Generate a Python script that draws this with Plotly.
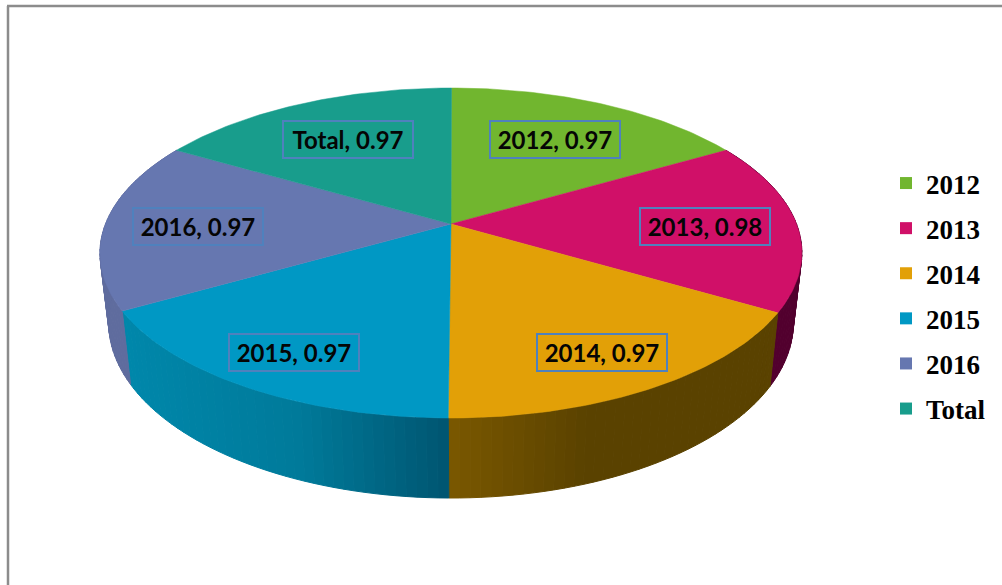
import math
import plotly.graph_objects as go

categories = ["2012", "2013", "2014", "2015", "2016", "Total"]
values = [0.97, 0.98, 0.97, 0.97, 0.97, 0.97]
tick_text = ["2012, 0.97", "2013, 0.98", "2014, 0.97", "2015, 0.97", "2016, 0.97", "Total, 0.97"]

top_colors = ["#71B62F", "#D01068", "#E2A007", "#0098C4", "#6677B0", "#189D8C"]
# wall gradient stops as (pixel x, colour) per slice
wall_stops = [
    [(0, "#3c6018"), (1002, "#3c6018")],
    [(0, "#52002e"), (1002, "#52002e")],
    [(449, "#7a5800"), (585, "#5a4200"), (1002, "#5a4200")],
    [(100, "#0089ad"), (300, "#007a9a"), (449, "#005570")],
    [(0, "#5f6c9e"), (1002, "#5f6c9e")],
    [(0, "#0f5f55"), (1002, "#0f5f55")],
]
label_xy = [(554.5, 139), (704.5, 226.5), (602, 352.5), (294, 352), (198, 226.5), (348, 139)]
box_w, box_h = 132, 39

# projected disc parameters in pixels
TOP = dict(cx=451, cy=224, c=345.5, b=159.9, k=-0.1758, s=-0.5)
BOT = dict(cx=451, cy=292, c=337, b=169.8, k=-0.1758, s=0)


def project(deg, p):
    a = math.radians(deg)
    u, v = math.sin(a), -math.cos(a)
    d = 1 + p["k"] * v
    return p["cx"] + p["s"] * v + p["c"] * u / d, p["cy"] + p["b"] * v / d


def lerp_colour(stops, x):
    def rgb(h):
        return [int(h[i:i + 2], 16) for i in (1, 3, 5)]
    if x <= stops[0][0]:
        return stops[0][1]
    for (x0, c0), (x1, c1) in zip(stops, stops[1:]):
        if x <= x1:
            t = (x - x0) / (x1 - x0)
            m = [round(a + (b - a) * t) for a, b in zip(rgb(c0), rgb(c1))]
            return "#%02x%02x%02x" % tuple(m)
    return stops[-1][1]


total = sum(values)
edges = [0]
for val in values:
    edges.append(edges[-1] + val / total * 360)

fig = go.Figure()
STEP = 1.5

# side walls
for i, name in enumerate(categories):
    a0, a1 = edges[i], edges[i + 1]
    if a1 <= 60 or a0 >= 300:
        continue
    n = max(1, round((a1 - a0) / STEP))
    for j in range(n):
        s0 = a0 + (a1 - a0) * j / n
        s1 = a0 + (a1 - a0) * (j + 1) / n
        p = [project(s0, TOP), project(s1, TOP), project(s1, BOT), project(s0, BOT)]
        xs = [q[0] for q in p] + [p[0][0]]
        ys = [q[1] for q in p] + [p[0][1]]
        col = lerp_colour(wall_stops[i], sum(xs[:4]) / 4)
        fig.add_trace(go.Scatter(x=xs, y=ys, mode="lines", fill="toself", fillcolor=col,
                                 line=dict(color=col, width=1), hoverinfo="skip", showlegend=False))

# top faces
for i, name in enumerate(categories):
    a0, a1 = edges[i], edges[i + 1]
    n = max(2, round((a1 - a0)))
    arc = [project(a0 + (a1 - a0) * j / n, TOP) for j in range(n + 1)]
    apex = (TOP["cx"], TOP["cy"])
    xs = [apex[0]] + [q[0] for q in arc] + [apex[0]]
    ys = [apex[1]] + [q[1] for q in arc] + [apex[1]]
    fig.add_trace(go.Scatter(x=xs, y=ys, mode="lines", fill="toself", fillcolor=top_colors[i],
                             line=dict(color=top_colors[i], width=0.5), name=name,
                             hoverinfo="name", showlegend=False))

# legend entries
for i, name in enumerate(categories):
    fig.add_trace(go.Scatter(x=[None], y=[None], mode="markers", name=name, legendgroup=name,
                             marker=dict(symbol="square", size=12, color=top_colors[i])))

annotations = []
for (x, y), txt in zip(label_xy, tick_text):
    annotations.append(dict(x=x, y=y, xref="x", yref="y", text=txt, showarrow=False,
                            width=box_w - 4, height=box_h - 4, borderpad=0, borderwidth=2,
                            bordercolor="#4F81BD", align="center", valign="middle",
                            font=dict(family="Lato", size=24, color="#050505", weight=700)))

fig.update_layout(
    width=1002, height=585,
    margin=dict(l=0, r=0, t=0, b=0),
    paper_bgcolor="white", plot_bgcolor="white",
    xaxis=dict(range=[0, 1002], visible=False, fixedrange=True),
    yaxis=dict(range=[585, 0], visible=False, fixedrange=True),
    annotations=annotations,
    shapes=[
        dict(type="line", xref="x", yref="y", x0=8, x1=8, y0=6, y1=585, line=dict(color="#8C8C8C", width=2.5)),
        dict(type="line", xref="x", yref="y", x0=7, x1=1002, y0=6, y1=6, line=dict(color="#8C8C8C", width=2.5)),
    ],
    legend=dict(x=886 / 1002, y=1 - 159 / 585, xanchor="left", yanchor="top",
                bgcolor="rgba(0,0,0,0)", tracegroupgap=7, itemwidth=30,
                font=dict(family="Liberation Serif", size=27, color="#000000", weight=700)),
    showlegend=True,
)

fig.write_html("out.html", config={"displayModeBar": False},
               post_script="document.body.style.margin='0';document.body.style.overflow='hidden';")
